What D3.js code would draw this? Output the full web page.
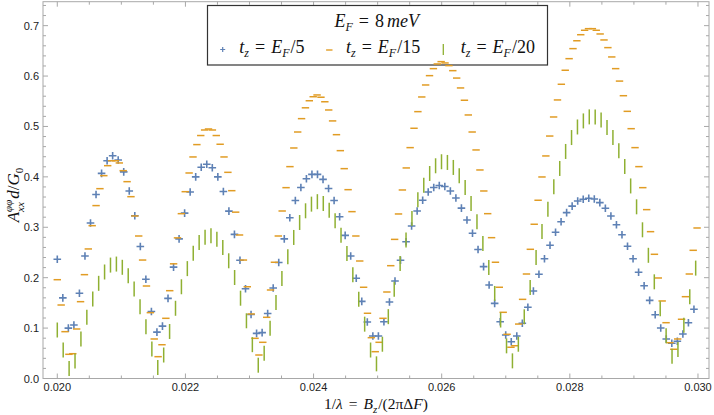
<!DOCTYPE html>
<html><head><meta charset="utf-8">
<script src="https://cdn.jsdelivr.net/npm/d3@7"></script>
<style>body{margin:0;background:#fff}</style>
</head><body><svg id="c" width="714" height="415"></svg>
<script>
// ---------------- data ----------------
const legendTitle = ["E","F","=","8","meV"];
const seriesNames = ["t_z = E_F/5","t_z = E_F/15","t_z = E_F/20"];
const xTickValues = [0.020,0.022,0.024,0.026,0.028,0.030];
const yTickValues = [0.0,0.1,0.2,0.3,0.4,0.5,0.6,0.7];

// x grids (regular sampling of 1/lambda for each series)
const crossStart = 0.0200, crossStep = 0.00008641;
const dashStart  = 0.0200, dashStep  = 0.00006052;
const barStart   = 0.0200, barStep   = 0.00009226;

// t_z = E_F/5  (blue "+")
const crossValues = [0.2365,0.160,0.100,0.106,0.169,0.243,0.3085,0.365,0.407,0.432,
0.442,0.4335,0.410,0.372,0.323,0.262,0.197,0.133,0.092,0.104,
0.159,0.221,0.277,0.328,0.370,0.400,0.419,0.425,0.418,0.400,
0.371,0.332,0.286,0.2345,0.178,0.127,0.0896,0.091,0.129,0.1796,
0.230,0.277,0.319,0.353,0.379,0.3964,0.405,0.405,0.395,0.377,
0.353,0.321,0.284,0.243,0.1988,0.153,0.112,0.0843,0.0843,0.1127,
0.1518,0.1935,0.2345,0.2714,0.3026,0.3323,0.3536,0.370,0.379,0.383,
0.381,0.372,0.358,0.338,0.3145,0.288,0.256,0.222,0.1855,0.149,
0.1127,0.0863,0.073,0.0843,0.1095,0.1413,0.1736,0.2067,0.2377,0.2643,
0.290,0.311,0.329,0.342,0.352,0.3555,0.3575,0.356,0.349,0.3377,
0.3224,0.305,0.2853,0.2623,0.2377,0.2107,0.1841,0.155,0.1266,0.1002,
0.0784,0.0698,0.0738,0.0883,0.1107,0.1373];

// t_z = E_F/15 (orange "-")
const dashValues = [0.196,0.1458,0.0929,0.048,0.0492,0.0982,0.1524,0.206,0.257,0.3032,
0.343,0.3766,0.4024,0.4222,0.432,0.432,0.4276,0.4123,0.3905,0.3607,
0.3224,0.2827,0.235,0.1835,0.1306,0.0784,0.0433,0.067,0.1194,0.1742,
0.2275,0.279,0.327,0.3706,0.4077,0.4395,0.464,0.482,0.493,0.495,
0.493,0.482,0.4647,0.4395,0.409,0.3726,0.330,0.2847,0.235,0.182,
0.128,0.0797,0.0466,0.0718,0.1214,0.1756,0.2306,0.2827,0.3323,0.3786,
0.4203,0.4573,0.489,0.5155,0.537,0.551,0.559,0.5625,0.558,0.549,
0.5327,0.511,0.4837,0.452,0.4163,0.3746,0.331,0.2827,0.2331,0.181,
0.1294,0.081,0.0532,0.0718,0.1194,0.1716,0.2238,0.276,0.3264,0.374,
0.4177,0.458,0.4964,0.5294,0.5585,0.5823,0.6008,0.6147,0.624,0.6286,
0.626,0.6207,0.6107,0.596,0.5764,0.552,0.5228,0.489,0.4534,0.4137,
0.372,0.327,0.2794,0.2306,0.181,0.1313,0.0877,0.062,0.065,0.108,
0.157,0.2073,0.2563,0.306,0.3536,0.3998,0.4415,0.481,0.5188,0.5526,
0.5837,0.6115,0.6345,0.6544,0.670,0.682,0.6908,0.694,0.694,0.6908,
0.6835,0.6716,0.6564,0.6379,0.6147,0.590,0.561,0.530,0.4956,0.458,
0.4203,0.3786,0.335,0.2913,0.2464,0.1994,0.1538,0.1107,0.071,0.058,
0.0784,0.1175,0.1623,0.2073,0.2543,0.2986];

// t_z = E_F/20 (green "|")
const barValues = [0.0962,0.0565,0.020,0.0347,0.0784,0.1214,0.1577,0.1888,0.2113,0.225,
0.227,0.2206,0.204,0.1776,0.1425,0.1028,0.0585,0.022,0.0466,0.0933,
0.1393,0.182,0.218,0.2486,0.270,0.280,0.2834,0.276,0.260,0.2335,
0.2004,0.1593,0.1145,0.0671,0.0264,0.050,0.0998,0.1508,0.1982,0.2415,
0.2798,0.3095,0.3327,0.3459,0.3508,0.3472,0.334,0.3128,0.2843,0.248,
0.2057,0.1574,0.1078,0.0565,0.0291,0.068,0.1227,0.1772,0.228,0.275,
0.3175,0.3545,0.3836,0.4067,0.422,0.430,0.4286,0.4187,0.402,0.379,
0.347,0.311,0.268,0.220,0.1687,0.116,0.0648,0.035,0.068,0.1224,
0.1806,0.240,0.2917,0.336,0.3803,0.4167,0.4504,0.478,0.499,0.511,
0.519,0.519,0.5126,0.498,0.478,0.4517,0.4206,0.382,0.3406,0.295,
0.2444,0.1918,0.1382,0.0846,0.044,0.0575,0.1058,0.162,0.219];

// ---------------- chart ----------------
const svg = d3.select("#c");
const C = {blue:"#5e81b5", orange:"#e19c24", green:"#8fb032", frame:"#a8a8a8"};
const L=43, R=709, T=1.7, B=378.5;
const x = d3.scaleLinear().domain([0.019777,0.030172]).range([L,R]);
const y = d3.scaleLinear().domain([0,0.7475]).range([B,T]);

const toPts = (vals,start,step)=>vals.map((v,i)=>({x:start+i*step, v}));
const crossPts = toPts(crossValues,crossStart,crossStep);
const dashPts  = toPts(dashValues,dashStart,dashStep);
const barPts   = toPts(barValues,barStart,barStep);

// frame
svg.append("rect").attr("x",L).attr("y",T).attr("width",R-L).attr("height",B-T)
  .attr("fill","none").attr("stroke",C.frame).attr("stroke-width",1);

// ticks
const xMinor = d3.range(0,21).map(i=>0.0200+i*0.0005).filter(v=>!xTickValues.some(t=>Math.abs(t-v)<1e-9));
const yMinor = d3.range(1,38).map(i=>i*0.02).filter(v=>v<0.7475 && !yTickValues.some(t=>Math.abs(t-v)<1e-9));
const tk = svg.append("g").attr("stroke",C.frame).attr("stroke-width",1);
const xt=(v,len,y0,dir)=>tk.append("line").attr("x1",x(v)).attr("x2",x(v)).attr("y1",y0).attr("y2",y0+dir*len);
const yt=(v,len,x0,dir)=>tk.append("line").attr("y1",y(v)).attr("y2",y(v)).attr("x1",x0).attr("x2",x0+dir*len);
xTickValues.forEach(v=>{xt(v,5,B,-1);xt(v,5,T,1);});
xMinor.forEach(v=>{xt(v,3,B,-1);xt(v,3,T,1);});
yTickValues.forEach(v=>{yt(v,5,L,1);yt(v,5,R,-1);});
yMinor.forEach(v=>{yt(v,3,L,1);yt(v,3,R,-1);});

// tick labels
const lab = svg.append("g").attr("font-family","Liberation Sans, Arial, sans-serif").attr("font-size",11).attr("fill","#222");
xTickValues.forEach(v=>lab.append("text").attr("x",x(v)).attr("y",B+12.5).attr("text-anchor","middle").text(d3.format(".3f")(v)));
yTickValues.forEach(v=>lab.append("text").attr("x",L-4).attr("y",y(v)+4).attr("text-anchor","end").text(d3.format(".1f")(v)));

// math label helper (pieces laid out left to right; "gap" adds space before a piece)
function mathLabel(parent, pieces, px, py, anchor, rot, fs){
  const g = parent.append("g").attr("transform",`translate(${px},${py})`+(rot?` rotate(${rot})`:""))
    .attr("font-family","Liberation Serif, Times New Roman, serif").attr("fill","#111");
  let cx=0;
  const put=(q)=>{
    const t=g.append("text").attr("x",cx).attr("y",q.dy||0).attr("font-size",q.fs||fs)
      .attr("font-style",q.it?"italic":"normal").text(q.s);
    return t.node().getComputedTextLength();
  };
  pieces.forEach(p=>{
    cx += p.gap||0;
    if(p.stack){ let w=0; p.stack.forEach(q=>{w=Math.max(w,put(q));}); cx+=w; }
    else cx += put(p);
  });
  const shift = anchor==="middle"?-cx/2:(anchor==="end"?-cx:0);
  g.selectAll("text").attr("x",function(){return +this.getAttribute("x")+shift;});
  return g;
}

// axis labels
mathLabel(svg,[{s:"1/"},{s:"λ",it:true},{s:"=",gap:6},{s:"B",it:true,gap:6},{s:"z",it:true,fs:11,dy:4},{s:"/(2π",gap:1},{s:"Δ"},{s:"F",it:true},{s:")"}],
  376,409,"middle",0,15.5);
mathLabel(svg,[{s:"A",it:true},{stack:[{s:"φφ",it:true,fs:11,dy:-7},{s:"xx",it:true,fs:11,dy:5}]},{s:"d",it:true,gap:1},{s:"/"},{s:"G",it:true},{s:"0",fs:11,dy:4}],
  19,195,"middle",-90,17);

// data marks
const marks = svg.append("g");
marks.append("g").selectAll("path").data(crossPts).join("path")
  .attr("d",d=>{const cx=x(d.x),cy=y(d.v);return `M${cx-3.8},${cy}H${cx+3.8}M${cx},${cy-3.8}V${cy+3.8}`;})
  .attr("stroke",C.blue).attr("stroke-width",1.6).attr("fill","none");
marks.append("g").selectAll("line").data(dashPts).join("line")
  .attr("x1",d=>x(d.x)-3.7).attr("x2",d=>x(d.x)+3.7).attr("y1",d=>y(d.v)).attr("y2",d=>y(d.v))
  .attr("stroke",C.orange).attr("stroke-width",1.5);
marks.append("g").selectAll("line").data(barPts).join("line")
  .attr("x1",d=>x(d.x)).attr("x2",d=>x(d.x)).attr("y1",d=>y(d.v)-7.5).attr("y2",d=>y(d.v)+7.5)
  .attr("stroke",C.green).attr("stroke-width",1.5);

// legend
const lg = svg.append("g");
lg.append("rect").attr("x",207.5).attr("y",5.5).attr("width",340).attr("height",59.5)
  .attr("fill","#fff").attr("stroke","#333").attr("stroke-width",1.2);
mathLabel(lg,[{s:legendTitle[0],it:true},{s:legendTitle[1],it:true,fs:12,dy:4},{s:legendTitle[2],gap:6},{s:legendTitle[3],gap:6},{s:legendTitle[4],it:true,gap:3}],376.7,27,"middle",0,18);
const entryX=[239.3,346,460.7];
const markX=[222.7,329.3,443.3];
seriesNames.forEach((nm,i)=>{
  const den = nm.split("/")[1];
  mathLabel(lg,[{s:"t",it:true},{s:"z",it:true,fs:12,dy:4},{s:"=",gap:6},{s:"E",it:true,gap:6},{s:"F",it:true,fs:12,dy:4},{s:"/"+den,gap:1}],entryX[i],53,"start",0,18);
});
lg.append("path").attr("d",`M${markX[0]-2.5},49.5H${markX[0]+2.5}M${markX[0]},47V52`).attr("stroke",C.blue).attr("stroke-width",1.2);
lg.append("line").attr("x1",markX[1]-3.2).attr("x2",markX[1]+3.2).attr("y1",50).attr("y2",50).attr("stroke",C.orange).attr("stroke-width",1.4);
lg.append("line").attr("x1",markX[2]).attr("x2",markX[2]).attr("y1",44).attr("y2",55).attr("stroke",C.green).attr("stroke-width",1.3);

// keep marks that overlap the legend on top of it (as in reference)
svg.node().appendChild(marks.node());
</script>
</body></html>
